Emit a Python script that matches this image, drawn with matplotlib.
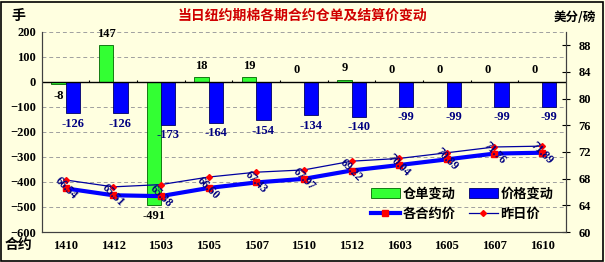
import numpy as np
import matplotlib.pyplot as plt
from matplotlib.patches import Rectangle

plt.rcParams['font.family'] = ['Liberation Serif', 'Noto Sans CJK SC']
plt.rcParams['font.weight'] = 'bold'

# 数据
contracts = ['1410', '1412', '1503', '1505', '1507', '1510', '1512', '1603', '1605', '1607', '1610']
warrant_chg = [-8, 147, -491, 18, 19, 0, 9, 0, 0, 0, 0]
price_chg = [-126, -126, -173, -164, -154, -134, -140, -99, -99, -99, -99]
price_today = [66.54, 65.51, 65.38, 66.60, 67.43, 67.97, 69.22, 70.04, 70.89, 71.76, 71.89]
price_prev = [67.80, 66.77, 67.11, 68.24, 68.97, 69.31, 70.62, 71.03, 71.88, 72.75, 72.88]

bg = '#FFFFE0'
fig = plt.figure(figsize=(6.05, 2.62), dpi=100, facecolor=bg)
ax = fig.add_axes([0.069, 0.1145, 0.8665, 0.7635], facecolor=bg)
ax2 = ax.twinx()

x = np.arange(len(contracts))
w = 0.3
b1 = ax.bar(x - w / 2, warrant_chg, w, color='#33FF33', edgecolor='#006600', linewidth=0.6, zorder=2)
b2 = ax.bar(x + w / 2, price_chg, w, color='#0000FF', edgecolor='#000066', linewidth=0.6, zorder=2)

for xi, v in zip(x, warrant_chg):
    va = 'bottom' if v >= 0 else 'top'
    off = 4 if v >= 0 else -4
    ax.annotate(str(v), (xi - w / 2, v), xytext=(0, off), textcoords='offset points',
                ha='center', va=va, fontsize=9, color='black')
for xi, v in zip(x, price_chg):
    ax.annotate(str(v), (xi + w / 2, v), xytext=(0, -3), textcoords='offset points',
                ha='center', va='top', fontsize=9, color='#000080')

ax.set_xlim(-0.5, len(contracts) - 0.5)
ax.set_ylim(-600, 200)
ax.set_yticks(range(-600, 201, 100))
ax.set_xticks(x)
ax.set_xticklabels(contracts)
ax.tick_params(axis='y', length=0, labelsize=9, pad=4)
ax.tick_params(axis='x', length=0, labelsize=9, pad=6)
ax.yaxis.grid(True, linestyle=(0, (4, 3)), color='#A0A0A0', linewidth=0.7)
ax.set_axisbelow(True)
ax.axhline(0, color='black', linewidth=1, zorder=3)
ax.vlines(x[:-1] + 0.5, 0, 8, color='black', linewidth=0.8, zorder=3)

l1, = ax2.plot(x, price_today, color='#0000FF', linewidth=3, marker='s', markersize=5,
               markerfacecolor='#FF0000', markeredgecolor='#FF0000', zorder=4)
l2, = ax2.plot(x, price_prev, color='#0000A0', linewidth=0.9, marker='D', markersize=3,
               markerfacecolor='#FF0000', markeredgecolor='#FF0000', zorder=4)
for xi, v in zip(x, price_today):
    ax2.text(xi, v, f'{v:.2f}', rotation=-45, ha='center', va='center', fontsize=8.5,
             color='#000080', rotation_mode='anchor', zorder=5)
ax2.set_ylim(60, 90)
ax2.set_yticks(range(60, 89, 4))
ax2.tick_params(axis='y', direction='inout', length=6, labelsize=9, pad=6)

for a in (ax, ax2):
    for s in a.spines.values():
        s.set_color('#404040')
        s.set_linewidth(0.8)
    a.spines['top'].set_visible(False)

# 图例按行排列：仓单变动 价格变动 / 各合约价 昨日价
ax.legend([b1, l1, b2, l2], ['仓单变动', '各合约价', '价格变动', '昨日价'], ncol=2,
          frameon=False, loc='lower left', bbox_to_anchor=(0.61, 0.01),
          handlelength=2.2, handleheight=0.8, columnspacing=1.0,
          handletextpad=0.2, labelspacing=0.5, borderpad=0.2,
          prop={'family': 'Noto Sans CJK SC', 'weight': 'bold', 'size': 9.5})

fig.text(0.5, 0.94, '当日纽约期棉各期合约仓单及结算价变动', ha='center', va='center',
         fontsize=10, color='#D00000', family='Noto Sans CJK SC', weight='bold')
fig.text(0.03, 0.94, '手', ha='center', va='center', fontsize=10, family='Noto Sans CJK SC', weight='bold')
fig.text(0.95, 0.935, '美分/磅', ha='center', va='center', fontsize=9, family='Noto Sans CJK SC', weight='bold')
fig.text(0.03, 0.065, '合约', ha='center', va='center', fontsize=10, family='Noto Sans CJK SC', weight='bold')

fig.patches.append(Rectangle((0.002, 0.004), 0.995, 0.99, transform=fig.transFigure,
                             fill=False, edgecolor='black', linewidth=1.2))

fig.savefig('out.png', dpi=100, facecolor=bg)
